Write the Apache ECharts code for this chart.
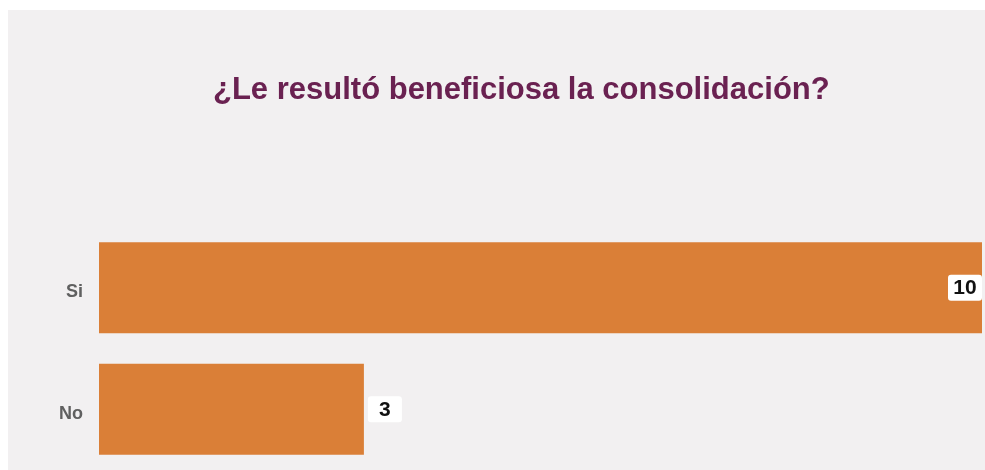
<!DOCTYPE html>
<html>
<head>
<meta charset="utf-8">
<title>¿Le resultó beneficiosa la consolidación?</title>
<script src="https://cdn.jsdelivr.net/npm/echarts@6/dist/echarts.min.js"></script>
<style>
  html, body {
    margin: 0;
    padding: 0;
    background: #ffffff;
  }
  #chart {
    position: absolute;
    left: 8px;
    top: 10px;
    width: 977px;
    height: 460px;
    background: #f2f0f1;
  }
</style>
</head>
<body>
<div id="chart"></div>
<script>
// respuestas
var categories = ["Si", "No"];
var counts = [10, 3];
var axisMax = 10;

var sans = "'Liberation Sans', Arial, sans-serif";

var chart = echarts.init(document.getElementById("chart"));

var option = {
  animation: false,
  title: {
    text: "¿Le resultó beneficiosa la consolidación?",
    left: 200,
    top: 60,
    textStyle: {
      fontFamily: sans,
      fontSize: 31,
      fontWeight: "bold",
      color: "#6a2151"
    }
  },
  grid: {
    left: 91,
    right: 3,
    top: 217,
    height: 247
  },
  xAxis: {
    type: "value",
    min: 0,
    max: axisMax,
    show: false
  },
  yAxis: {
    type: "category",
    data: categories,
    inverse: true,
    axisLine: { show: false },
    axisTick: { show: false },
    axisLabel: {
      margin: 16,
      formatter: "{a|{value}}",
      rich: {
        a: {
          padding: [9, 0, 0, 0],
          fontFamily: sans,
          fontSize: 18,
          fontWeight: "bold",
          color: "#606060"
        }
      }
    }
  },
  series: [
    {
      type: "bar",
      data: counts.map(function (v, i) {
        // la barra llena lleva la etiqueta dentro
        var inside = v >= axisMax;
        return {
          value: v,
          label: {
            position: inside ? "insideRight" : "right",
            distance: inside ? 0 : 4
          }
        };
      }),
      barCategoryGap: "25%",
      itemStyle: { color: "#da7f37" },
      label: {
        show: true,
        formatter: "{v|{c}}",
        backgroundColor: "#ffffff",
        borderRadius: 3,
        padding: [3, 5, 2, 5],
        rich: {
          v: {
            width: 24,
            align: "center",
            fontFamily: sans,
            fontSize: 21,
            fontWeight: "bold",
            color: "#111111"
          }
        }
      }
    }
  ]
};

chart.setOption(option);
window.addEventListener("resize", function () {
  chart.resize();
});
</script>
</body>
</html>
